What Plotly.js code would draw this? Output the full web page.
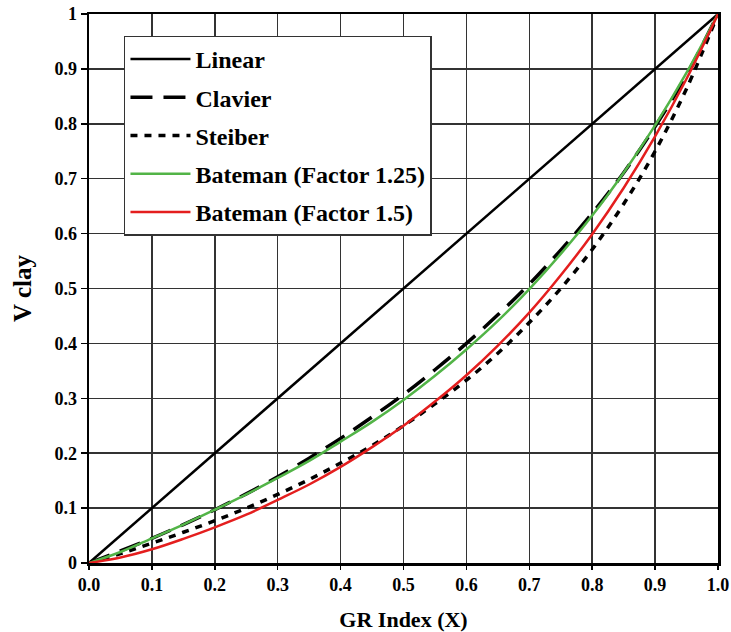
<!DOCTYPE html>
<html>
<head>
<meta charset="utf-8">
<script src="https://cdn.plot.ly/plotly-3.0.1.min.js"></script>
<style>
  html, body { margin: 0; padding: 0; background: #ffffff; }
  #chart { width: 731px; height: 632px; }
</style>
</head>
<body>
<div id="chart"></div>
<script>
// GR index values (x axis)
const grIndex = [0.00, 0.05, 0.10, 0.15, 0.20, 0.25, 0.30, 0.35, 0.40, 0.45, 0.50,
                 0.55, 0.60, 0.65, 0.70, 0.75, 0.80, 0.85, 0.90, 0.95, 1.00];

// Series values
const linearX = [0.0, 1.0];
const linearY = [0.0, 1.0];
const clavier = [0.000, 0.022, 0.045, 0.070, 0.097, 0.126, 0.157, 0.191, 0.227, 0.266, 0.307,
                 0.352, 0.400, 0.452, 0.508, 0.570, 0.637, 0.711, 0.795, 0.889, 1.000];
const steiber = [0.000, 0.017, 0.036, 0.056, 0.077, 0.100, 0.125, 0.152, 0.182, 0.214, 0.250,
                 0.290, 0.333, 0.382, 0.438, 0.500, 0.571, 0.654, 0.750, 0.864, 1.000];
const bateman125 = [0.000, 0.020, 0.045, 0.070, 0.097, 0.125, 0.155, 0.186, 0.221, 0.257, 0.297,
                    0.341, 0.389, 0.441, 0.499, 0.563, 0.633, 0.711, 0.797, 0.893, 1.000];
const bateman15 = [0.000, 0.010, 0.025, 0.044, 0.065, 0.088, 0.115, 0.143, 0.175, 0.211, 0.250,
                   0.294, 0.342, 0.396, 0.456, 0.524, 0.599, 0.683, 0.777, 0.882, 1.000];

const seriesNames = ['Linear', 'Clavier', 'Steiber', 'Bateman (Factor 1.25)', 'Bateman (Factor 1.5)'];
const xTickVals = [0.0, 0.1, 0.2, 0.3, 0.4, 0.5, 0.6, 0.7, 0.8, 0.9, 1.0];
const xTickText = ['0.0', '0.1', '0.2', '0.3', '0.4', '0.5', '0.6', '0.7', '0.8', '0.9', '1.0'];
const yTickVals = [0, 0.1, 0.2, 0.3, 0.4, 0.5, 0.6, 0.7, 0.8, 0.9, 1];
const yTickText = ['0', '0.1', '0.2', '0.3', '0.4', '0.5', '0.6', '0.7', '0.8', '0.9', '1'];

const FONT = 'Liberation Serif, Times New Roman, serif';

const traces = [
  { x: linearX, y: linearY, name: seriesNames[0], legendgroup: 'g1', mode: 'lines',
    line: { color: '#000000', width: 2.5 } },
  { x: grIndex, y: clavier, name: seriesNames[1], legendgroup: 'g2', mode: 'lines',
    line: { color: '#000000', width: 3.5, dash: '22px,11px', shape: 'spline' } },
  { x: grIndex, y: steiber, name: seriesNames[2], legendgroup: 'g3', mode: 'lines',
    line: { color: '#000000', width: 3.5, dash: '7px,7px', shape: 'spline' } },
  { x: grIndex, y: bateman125, name: seriesNames[3], legendgroup: 'g4', mode: 'lines',
    line: { color: '#52b447', width: 2.5, shape: 'spline' } },
  { x: grIndex, y: bateman15, name: seriesNames[4], legendgroup: 'g5', mode: 'lines',
    line: { color: '#e41e1e', width: 2.5, shape: 'spline' } }
];

const layout = {
  width: 731, height: 632,
  margin: { l: 89, r: 13, t: 14, b: 69 },
  paper_bgcolor: '#ffffff', plot_bgcolor: '#ffffff',
  font: { family: FONT, color: '#000000', size: 18, weight: 'bold' },
  showlegend: true,
  legend: {
    x: 0.0556, y: 0.9608, xanchor: 'left', yanchor: 'top',
    bgcolor: '#ffffff', bordercolor: '#333333', borderwidth: 1.5,
    font: { family: FONT, size: 24, color: '#000000', weight: 'bold' },
    traceorder: 'grouped', tracegroupgap: 4, itemwidth: 60
  },
  xaxis: {
    range: [0, 1], tickmode: 'array', tickvals: xTickVals, ticktext: xTickText,
    showgrid: true, gridcolor: '#333333', gridwidth: 1.5,
    showline: true, linecolor: '#000000', linewidth: 2.5, mirror: true,
    ticks: 'outside', ticklen: 4, tickcolor: '#000000', tickwidth: 1.5,
    zeroline: false,
    tickfont: { family: FONT, size: 18, color: '#000000', weight: 'bold' },
    title: { text: 'GR Index (X)', font: { family: FONT, size: 22, color: '#000000', weight: 'bold' }, standoff: 18 }
  },
  yaxis: {
    range: [0, 1], tickmode: 'array', tickvals: yTickVals, ticktext: yTickText,
    showgrid: true, gridcolor: '#333333', gridwidth: 1.5,
    showline: true, linecolor: '#000000', linewidth: 2.5, mirror: true,
    ticks: 'outside', ticklen: 6, tickcolor: '#000000', tickwidth: 1.5,
    zeroline: false,
    tickfont: { family: FONT, size: 18, color: '#000000', weight: 'bold' },
    title: { text: 'V clay', font: { family: FONT, size: 25, color: '#000000', weight: 'bold' }, standoff: 16 }
  }
};

Plotly.newPlot('chart', traces, layout, { displayModeBar: false, staticPlot: true });
</script>
</body>
</html>
